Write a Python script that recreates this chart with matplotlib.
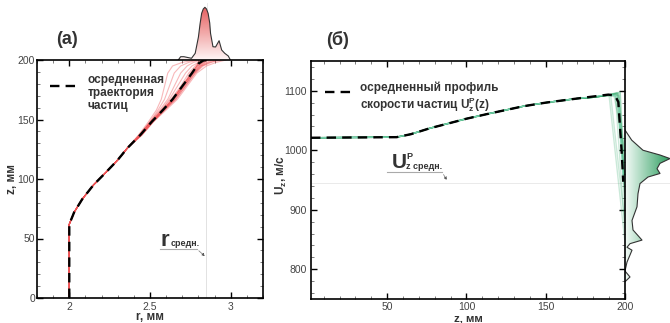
import numpy as np
import matplotlib
matplotlib.use("Agg")
import matplotlib.pyplot as plt
from matplotlib.colors import LinearSegmentedColormap
from matplotlib.patches import Polygon

plt.rcParams['font.family'] = ['Liberation Sans', 'DejaVu Sans']
plt.rcParams['mathtext.fontset'] = 'custom'
plt.rcParams['mathtext.rm'] = 'Liberation Sans'
plt.rcParams['mathtext.it'] = 'Liberation Sans:bold'
plt.rcParams['mathtext.bf'] = 'Liberation Sans:bold'

# ---- (а) trajectory r(z) ----
z_mean = [0, 62, 72, 83, 95, 106, 116, 126, 137, 148, 158, 167, 178, 189, 197, 199.5, 200]
r_mean = [2.0, 2.0, 2.03, 2.08, 2.15, 2.23, 2.30, 2.36, 2.44, 2.51, 2.58, 2.64, 2.70, 2.76, 2.80, 2.83, 2.85]

# individual particle trajectories, upper part (lower part coincides with mean)
z_upper = [137, 148, 158, 167, 178, 189, 195, 198, 200]
r_traj = [
    [2.43, 2.49, 2.54, 2.57, 2.59, 2.61, 2.64, 2.70, 2.78],
    [2.43, 2.50, 2.55, 2.59, 2.62, 2.65, 2.69, 2.74, 2.80],
    [2.44, 2.50, 2.56, 2.61, 2.65, 2.69, 2.73, 2.77, 2.82],
    [2.44, 2.51, 2.57, 2.62, 2.67, 2.72, 2.76, 2.80, 2.84],
    [2.44, 2.51, 2.58, 2.64, 2.70, 2.75, 2.79, 2.83, 2.86],
    [2.44, 2.51, 2.58, 2.65, 2.71, 2.77, 2.81, 2.85, 2.88],
    [2.45, 2.52, 2.59, 2.66, 2.72, 2.78, 2.83, 2.88, 2.92],
    [2.45, 2.52, 2.60, 2.67, 2.73, 2.79, 2.85, 2.91, 2.97],
    [2.44, 2.51, 2.58, 2.64, 2.70, 2.76, 2.80, 2.82, 2.84],
    [2.44, 2.51, 2.59, 2.65, 2.71, 2.77, 2.81, 2.84, 2.85],
    [2.45, 2.52, 2.59, 2.66, 2.72, 2.78, 2.82, 2.86, 2.90],
    [2.44, 2.50, 2.57, 2.63, 2.69, 2.74, 2.78, 2.80, 2.83],
    [2.44, 2.51, 2.58, 2.65, 2.71, 2.77, 2.82, 2.87, 2.94],
    [2.44, 2.51, 2.58, 2.64, 2.70, 2.76, 2.80, 2.83, 2.86],
]
r_avg = 2.85

# distribution of r at z = 200
dens_r = [2.675, 2.69, 2.71, 2.757, 2.78, 2.80, 2.81, 2.82, 2.83, 2.84, 2.85, 2.86, 2.87,
          2.875, 2.89, 2.906, 2.928, 2.944, 2.963, 2.985, 2.998]
dens_h = [0, 3.3, 3.3, 1.7, 6.7, 23, 36, 46.7, 51, 52.7, 51, 46.7, 37,
          26.7, 13.3, 13, 19.3, 10, 6.7, 4, 0]

# ---- (б) velocity profile U(z) ----
z_u = [2, 56, 65, 77, 90, 100, 115, 136, 150, 170, 189.5, 193.7, 195.8, 197.9, 198.9]
U_u = [1021, 1022, 1027, 1037, 1046, 1053, 1062, 1074, 1080, 1087, 1093.5, 1092, 1081, 997, 947]

# individual particle profiles near the exit: corner z, corner U, U at z=200
g_zc = [190, 191, 193, 194, 195, 195, 196, 196, 197, 194, 195, 196, 197, 196]
g_uc = [1091, 1092, 1093, 1095, 1097, 1094, 1096, 1092, 1098, 1090, 1096, 1095, 1097, 1093]
g_uend = [850, 880, 1000, 960, 945, 940, 930, 920, 900, 870, 960, 990, 950, 975]
U_avg = 945

# distribution of U at z = 200
dens_u = [1034, 1017, 1000, 992, 986, 978, 969, 961, 955, 944, 927, 905, 882, 866,
          849, 843, 837, 832, 812, 797, 787, 779]
dens_w = [0, 6.7, 18, 35, 45, 35, 32, 35, 23, 15, 13, 12, 7, 8,
          17, 5, 2, 7, 2, 0, 5, 0]

txt_c = '#333333'
dash = (0, (4, 2.6))

fig = plt.figure(figsize=(6.7, 3.23), dpi=100)
ax1 = fig.add_axes([37/670, 25/323, 226/670, 238/323])
ax2 = fig.add_axes([311/670, 24/323, 314/670, 238/323])


def style(ax, xpad, ypad):
    ax.tick_params(which='both', direction='in', top=True, right=True,
                   labelsize=7.5, labelcolor='#444444', width=1)
    ax.tick_params(which='major', length=4)
    ax.tick_params(which='minor', length=2, width=0.6, color='#666666')
    ax.tick_params(axis='x', pad=xpad)
    ax.tick_params(axis='y', pad=ypad)
    for s in ax.spines.values():
        s.set_linewidth(1.2)


def grad_fill(ax, xs, ys, cmap, extent, vertical):
    verts = list(zip(xs, ys))
    poly = Polygon(verts, closed=True, facecolor='none', edgecolor='none')
    ax.add_patch(poly)
    g = np.linspace(0, 1, 256)
    g = g.reshape(-1, 1) if vertical else g.reshape(1, -1)
    im = ax.imshow(g, extent=extent, origin='lower', aspect='auto', cmap=cmap,
                   vmin=0, vmax=1, zorder=1)
    im.set_clip_path(poly)
    ax.plot(xs, ys, color='#333333', lw=0.8, zorder=2)


# ---------- panel (а) ----------
ax1.set_xlim(1.8, 3.2)
ax1.set_ylim(0, 200)
ax1.axvline(r_avg, color='#dddddd', lw=0.6, zorder=0)
low = [i for i, z in enumerate(z_mean) if z <= 126]
z_low = [z_mean[i] for i in low]
r_low = [r_mean[i] for i in low]
for tr in r_traj:
    ax1.plot(r_low + tr, z_low + z_upper, color='#e8151b', lw=0.8, alpha=0.3, zorder=2)
ax1.plot(r_mean, z_mean, color='#f06060', lw=0.8, zorder=2)
ax1.plot(r_mean, z_mean, color='black', lw=1.7, ls=dash, zorder=3)
ax1.set_xticks([2, 2.5, 3])
ax1.set_xticklabels(['2', '2.5', '3'])
ax1.set_yticks([0, 50, 100, 150, 200])
ax1.set_xticks(np.arange(1.8, 3.21, 0.1), minor=True)
ax1.set_yticks(np.arange(0, 201, 10), minor=True)
style(ax1, 3, 1.5)
ax1.set_xlabel('r, мм', fontsize=8.5, fontweight='bold', color=txt_c)
ax1.set_ylabel('z, мм', fontsize=8.5, fontweight='bold', color=txt_c)
ax1.xaxis.set_label_coords(0.5, -0.080)
ax1.xaxis.label.set_va('center')
ax1.yaxis.set_label_coords(-0.111, 0.5)
ax1.yaxis.label.set_va('center')

ax1.plot([1.883, 2.068], [178, 178], color='black', lw=1.7, ls=dash)
ax1.text(2.111, 188.5, 'осредненная\nтраектория\nчастиц', fontsize=8.5,
         fontweight='bold', color=txt_c, va='top', ha='left', linespacing=1.15)

ax1.text(2.565, 44, 'r', fontsize=16, fontweight='bold', color=txt_c, ha='left', va='baseline')
ax1.text(2.625, 44, 'средн.', fontsize=6.5, fontweight='bold', color=txt_c, ha='left', va='baseline')
ax1.plot([2.562, 2.79], [41.2, 41.2], color='#aaaaaa', lw=0.8)
ax1.annotate('', xy=(2.852, 33.6), xytext=(2.79, 41.2),
             arrowprops=dict(arrowstyle='-|>', color='#555555', lw=0.5,
                             mutation_scale=4, linestyle=(0, (1, 1))))

fig.text(67/670, 1 - 40/323, '(а)', fontsize=13, fontweight='bold', color=txt_c,
         ha='center', va='center')

# distribution above the top of panel (а)
ax_t = fig.add_axes([37/670, 263/323, 226/670, 57/323], zorder=-1)
ax_t.set_xlim(1.8, 3.2)
ax_t.set_ylim(0, 57)
ax_t.axis('off')
red_cm = LinearSegmentedColormap.from_list('rg', ['#fff6f6', '#e45a5a'])
grad_fill(ax_t, dens_r, dens_h, red_cm, (1.8, 3.2, 0, 55), True)
ax_t.axvline(r_avg, color='#e6e6e6', lw=0.6, zorder=0)

# ---------- panel (б) ----------
ax2.set_xlim(2, 200)
ax2.set_ylim(750, 1150)
ax2.axhline(U_avg, color='#e6e6e6', lw=0.6, zorder=0)
zc_low = [z for z in z_u if z <= 170]
uc_low = U_u[:len(zc_low)]
for zc, uc, ue in zip(g_zc, g_uc, g_uend):
    ax2.plot(zc_low + [180, 188, zc, 199.8], uc_low + [1089, 1092, uc, ue],
             color='#2fa868', lw=1.0, alpha=0.25, zorder=2)
ax2.plot(z_u, U_u, color='#7fd3b4', lw=0.8, zorder=2)
ax2.plot(z_u, U_u, color='black', lw=1.7, ls=dash, zorder=3)
ax2.set_xticks([50, 100, 150, 200])
ax2.set_yticks([800, 900, 1000, 1100])
ax2.set_xticks(np.arange(10, 201, 10), minor=True)
ax2.set_yticks(np.arange(760, 1150, 20), minor=True)
style(ax2, 2.5, 3)
ax2.set_xlabel('z, мм', fontsize=8.2, fontweight='bold', color=txt_c)
ax2.set_ylabel(r'U$_z$, м/с', fontsize=8.5, fontweight='bold', color=txt_c)
ax2.xaxis.set_label_coords(0.5, -0.080)
ax2.xaxis.label.set_va('center')
ax2.yaxis.set_label_coords(-0.095, 0.52)
ax2.yaxis.label.set_va('center')

ax2.plot([10.9, 29.8], [1097.5, 1097.5], color='black', lw=1.7, ls=dash)
ax2.text(33, 1116, 'осредненный профиль\nскорости частиц U$_z^P$(z)', fontsize=8.5,
         fontweight='bold', color=txt_c, va='top', ha='left', linespacing=1.15)

ax2.text(53.2, 971, 'U', fontsize=15, fontweight='bold', color=txt_c, ha='left', va='baseline')
ax2.text(62, 986, 'P', fontsize=6.5, fontweight='bold', color=txt_c, ha='left', va='baseline')
ax2.text(62, 968, 'z средн.', fontsize=6.5, fontweight='bold', color=txt_c, ha='left', va='baseline')
ax2.plot([50, 84.7], [963, 963], color='#aaaaaa', lw=0.8)
ax2.annotate('', xy=(88.5, 946), xytext=(84.7, 963),
             arrowprops=dict(arrowstyle='-|>', color='#555555', lw=0.5,
                             mutation_scale=4, linestyle=(0, (1, 1))))

fig.text(338/670, 1 - 40/323, '(б)', fontsize=13, fontweight='bold', color=txt_c,
         ha='center', va='center')

# distribution to the right of panel (б)
ax_r = fig.add_axes([625/670, 24/323, 45/670, 238/323], zorder=-1)
ax_r.set_xlim(0, 45)
ax_r.set_ylim(750, 1150)
ax_r.axis('off')
green_cm = LinearSegmentedColormap.from_list('gg', ['#f4fbf7', '#2e9e60'])
grad_fill(ax_r, dens_w, dens_u, green_cm, (0, 45, 750, 1150), False)
ax_r.axhline(U_avg, color='#e6e6e6', lw=0.6, zorder=0)

fig.savefig('out.png', dpi=100)
